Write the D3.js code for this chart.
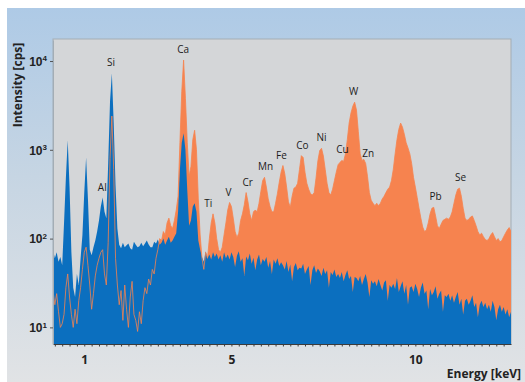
<!DOCTYPE html>
<html>
<head>
<meta charset="utf-8">
<script src="https://cdn.jsdelivr.net/npm/d3@7"></script>
<style>
  body { margin: 0; background: #fff; }
  svg { display: block; font-family: "Open Sans", "Noto Sans", sans-serif; }
</style>
</head>
<body>
<div id="chart"></div>
<script>
var W = 525, H = 382;
var PLOT = { left: 53, right: 511, top: 39, bottom: 344 };

// spectrum channels: 0.15 keV start, 0.05 keV per channel (250 channels)
var E0 = 0.15, dE = 0.05;

// orange spectrum (cps)
var orange = [
  26, 18, 24, 15, 10, 11, 14, 28, 40, 22,
  14, 10, 16, 11, 20, 28, 45, 70, 80, 50,
  30, 16, 24, 38, 50, 60, 70, 75, 40, 30,
  90, 800, 2400, 600, 60, 30, 18, 26, 12, 30,
  16, 10, 22, 33, 14, 12, 9, 15, 11, 20,
  28, 24, 35, 30, 45, 40, 60, 75, 100, 95,
  120, 110, 150, 170, 140, 130, 160, 210, 300, 1200,
  4500, 10250, 3800, 1200, 500, 650, 1300, 1660, 1000, 280,
  110, 60, 45, 70, 60, 100, 150, 190, 150, 100,
  75, 70, 80, 110, 150, 210, 255, 230, 170, 120,
  103, 115, 160, 190, 240, 330, 260, 190, 160, 200,
  210, 200, 250, 340, 450, 490, 380, 280, 230, 200,
  200, 250, 320, 430, 560, 665, 540, 380, 260, 225,
  300, 370, 380, 420, 600, 860, 820, 560, 420, 360,
  320, 310, 330, 480, 750, 980, 1040, 850, 600, 420,
  330, 310, 360, 450, 560, 680, 720, 760, 740, 900,
  1300, 2000, 2600, 3100, 3440, 2800, 1600, 900, 760, 780,
  700, 500, 330, 270, 250, 235, 250, 235, 250, 280,
  300, 330, 360, 380, 450, 600, 900, 1300, 1700, 2000,
  1800, 1500, 1200, 1050, 900, 700, 490, 380, 290, 220,
  170, 135, 120, 125, 150, 190, 220, 225, 180, 140,
  130, 145, 160, 165, 170, 165, 175, 200, 250, 310,
  360, 370, 300, 220, 170, 160, 165, 175, 180, 160,
  140, 120, 110, 115, 105, 98, 95, 100, 110, 117,
  105, 95, 100, 92, 95, 105, 115, 125, 133, 120
];

// blue spectrum (cps)
var blue = [
  75, 60, 70, 55, 62, 50, 150, 480, 1280, 380,
  70, 28, 22, 40, 30, 60, 110, 330, 820, 280,
  75, 65, 80, 95, 120, 160, 230, 290, 200, 170,
  700, 3500, 7300, 2000, 400, 130, 85, 78, 90, 80,
  84, 88, 78, 75, 92, 85, 80, 82, 90, 82,
  88, 95, 86, 80, 80, 92, 88, 98, 85, 90,
  100, 85, 95, 105, 90, 95, 105, 115, 200, 600,
  1200, 1535, 1000, 350, 140, 160, 230, 250, 200, 95,
  75, 62, 55, 72, 60, 66, 58, 70, 62, 68,
  58, 65, 55, 70, 60, 66, 58, 70, 62, 48,
  64, 72, 55, 60, 38, 63, 57, 68, 52, 61,
  44, 58, 66, 50, 59, 55, 62, 47, 56, 40,
  58, 52, 60, 49, 54, 50, 45, 56, 42, 51,
  33, 48, 53, 44, 47, 46, 52, 40, 45, 49,
  30, 44, 50, 41, 46, 43, 38, 47, 40, 44,
  28, 42, 39, 45, 37, 40, 36, 42, 33, 39,
  44, 35, 38, 25, 37, 36, 33, 38, 30, 35,
  40, 32, 22, 34, 31, 33, 29, 35, 30, 26,
  32, 34, 20, 30, 28, 31, 27, 36, 25, 29,
  33, 24, 30, 18, 28, 29, 25, 31, 27, 22,
  28, 32, 24, 26, 16, 27, 23, 25, 29, 21,
  24, 26, 15, 23, 22, 24, 20, 23, 19, 22,
  25, 18, 21, 14, 20, 21, 18, 20, 23, 17,
  19, 13, 18, 20, 17, 19, 16, 18, 15, 20,
  17, 12, 16, 18, 15, 17, 14, 16, 13, 15
];

// element labels: where the name sits (keV) and the line it marks (keV)
var labelNames  = ["Al", "Si", "Ca", "Ti", "V", "Cr", "Mn", "Fe", "Co", "Ni", "Cu", "W", "Zn", "Pb", "Se"];
var labelEnergy = [1.49, 1.73, 3.69, 4.37, 4.92, 5.44, 5.93, 6.36, 6.93, 7.45, 8.02, 8.32, 8.72, 10.55, 11.23];
var peakEnergy  = [1.50, 1.75, 3.70, 4.50, 4.95, 5.40, 5.90, 6.40, 6.90, 7.45, 8.00, 8.35, 8.65, 10.50, 11.20];

var xMajor = [1, 5, 10];
var yTicks = [10, 100, 1000, 10000];

var energy = orange.map(function(d, i) { return E0 + i * dE; });

var svg = d3.select("#chart").append("svg")
    .attr("width", W)
    .attr("height", H);

var defs = svg.append("defs");
var grad = defs.append("linearGradient")
    .attr("id", "panelGrad")
    .attr("x1", 0).attr("y1", 0).attr("x2", 0).attr("y2", 1);
grad.append("stop").attr("offset", "0%").attr("stop-color", "#aecae6");
grad.append("stop").attr("offset", "45%").attr("stop-color", "#c6d5e3");
grad.append("stop").attr("offset", "100%").attr("stop-color", "#e1e3e5");

defs.append("clipPath").attr("id", "plotClip")
  .append("rect")
    .attr("x", PLOT.left).attr("y", PLOT.top)
    .attr("width", PLOT.right - PLOT.left)
    .attr("height", PLOT.bottom - PLOT.top);

// outer panel
svg.append("rect")
    .attr("x", 7).attr("y", 8)
    .attr("width", W - 7).attr("height", H - 8)
    .attr("fill", "url(#panelGrad)");

var x = d3.scaleLinear().domain([0.15, 12.6]).range([PLOT.left, PLOT.right]);
var y = d3.scaleLog().domain([6.5, 17250]).range([PLOT.bottom, PLOT.top + 1]);

// plot background
svg.append("rect")
    .attr("x", PLOT.left).attr("y", PLOT.top)
    .attr("width", PLOT.right - PLOT.left)
    .attr("height", PLOT.bottom - PLOT.top)
    .attr("fill", "#d4d6d8")
    .attr("stroke", "#a3adb5")
    .attr("stroke-width", 1);

function spectrumArea(values) {
  return d3.area()
    .x(function(d, i) { return x(energy[i]); })
    .y0(PLOT.bottom)
    .y1(function(d) { return y(d); })(values);
}

var spectrumLine = d3.line()
    .x(function(d, i) { return x(energy[i]); })
    .y(function(d) { return y(d); });

var marks = svg.append("g").attr("clip-path", "url(#plotClip)");
marks.append("path")
    .attr("d", spectrumArea(orange))
    .attr("fill", "#f6834f");
marks.append("path")
    .attr("d", spectrumArea(blue))
    .attr("fill", "#0b6fbf");
// orange trace stays visible through the blue fill
marks.append("path")
    .attr("d", spectrumLine(orange))
    .attr("fill", "none")
    .attr("stroke", "#f6834f")
    .attr("stroke-opacity", 0.8)
    .attr("stroke-width", 1);

// x axis: minor ticks every 0.2 keV, labels at 1, 5, 10
var minor = d3.range(1, 63).map(function(k) { return k / 5; });
var xAxis = svg.append("g")
    .attr("transform", "translate(0," + PLOT.bottom + ")")
    .call(d3.axisBottom(x)
      .tickValues(minor)
      .tickSize(2.5)
      .tickSizeOuter(0)
      .tickFormat(function(d) { return xMajor.indexOf(Math.round(d * 10) / 10) >= 0 ? d3.format("d")(d) : ""; }));
xAxis.select(".domain").attr("stroke", "#3c3c3c");
xAxis.selectAll(".tick line").attr("stroke", "#3c3c3c");
xAxis.selectAll(".tick text")
    .attr("y", 11)
    .attr("fill", "#222")
    .style("font-size", "12px")
    .style("font-weight", "bold")
    .style("font-family", "'Open Sans', sans-serif");

// y axis: decades with superscript labels
var yAxis = svg.append("g")
    .attr("transform", "translate(" + PLOT.left + ",0)")
    .call(d3.axisLeft(y).tickValues(yTicks).tickSize(3).tickSizeOuter(0).tickFormat(""));
yAxis.select(".domain").attr("stroke", "#a3adb5");
yAxis.selectAll(".tick line").attr("stroke", "#555");
yAxis.selectAll(".tick").each(function(d) {
  var t = d3.select(this).append("text")
      .attr("x", -6)
      .attr("dy", "0.35em")
      .attr("text-anchor", "end")
      .attr("fill", "#222")
      .style("font-size", "12px")
      .style("font-weight", "bold");
  t.append("tspan").text("10");
  t.append("tspan")
      .attr("dy", "-0.55em")
      .style("font-size", "8px")
      .text(Math.round(Math.log10(d)));
});

// element labels above their peaks
labelNames.forEach(function(name, k) {
  var idx = Math.round((peakEnergy[k] - E0) / dE);
  var top = Math.max(orange[idx], blue[idx]);
  svg.append("text")
      .attr("x", x(labelEnergy[k]))
      .attr("y", y(top) - 7)
      .attr("text-anchor", "middle")
      .attr("fill", "#1c1c1c")
      .style("font-size", "10px")
      .text(name);
});

// axis titles
svg.append("text")
    .attr("transform", "translate(22,85) rotate(-90)")
    .attr("text-anchor", "middle")
    .attr("fill", "#222")
    .style("font-size", "12px")
    .style("font-weight", "bold")
    .text("Intensity [cps]");

svg.append("text")
    .attr("x", 521)
    .attr("y", 378)
    .attr("text-anchor", "end")
    .attr("fill", "#222")
    .style("font-size", "12px")
    .style("font-weight", "bold")
    .text("Energy [keV]");
</script>
</body>
</html>
